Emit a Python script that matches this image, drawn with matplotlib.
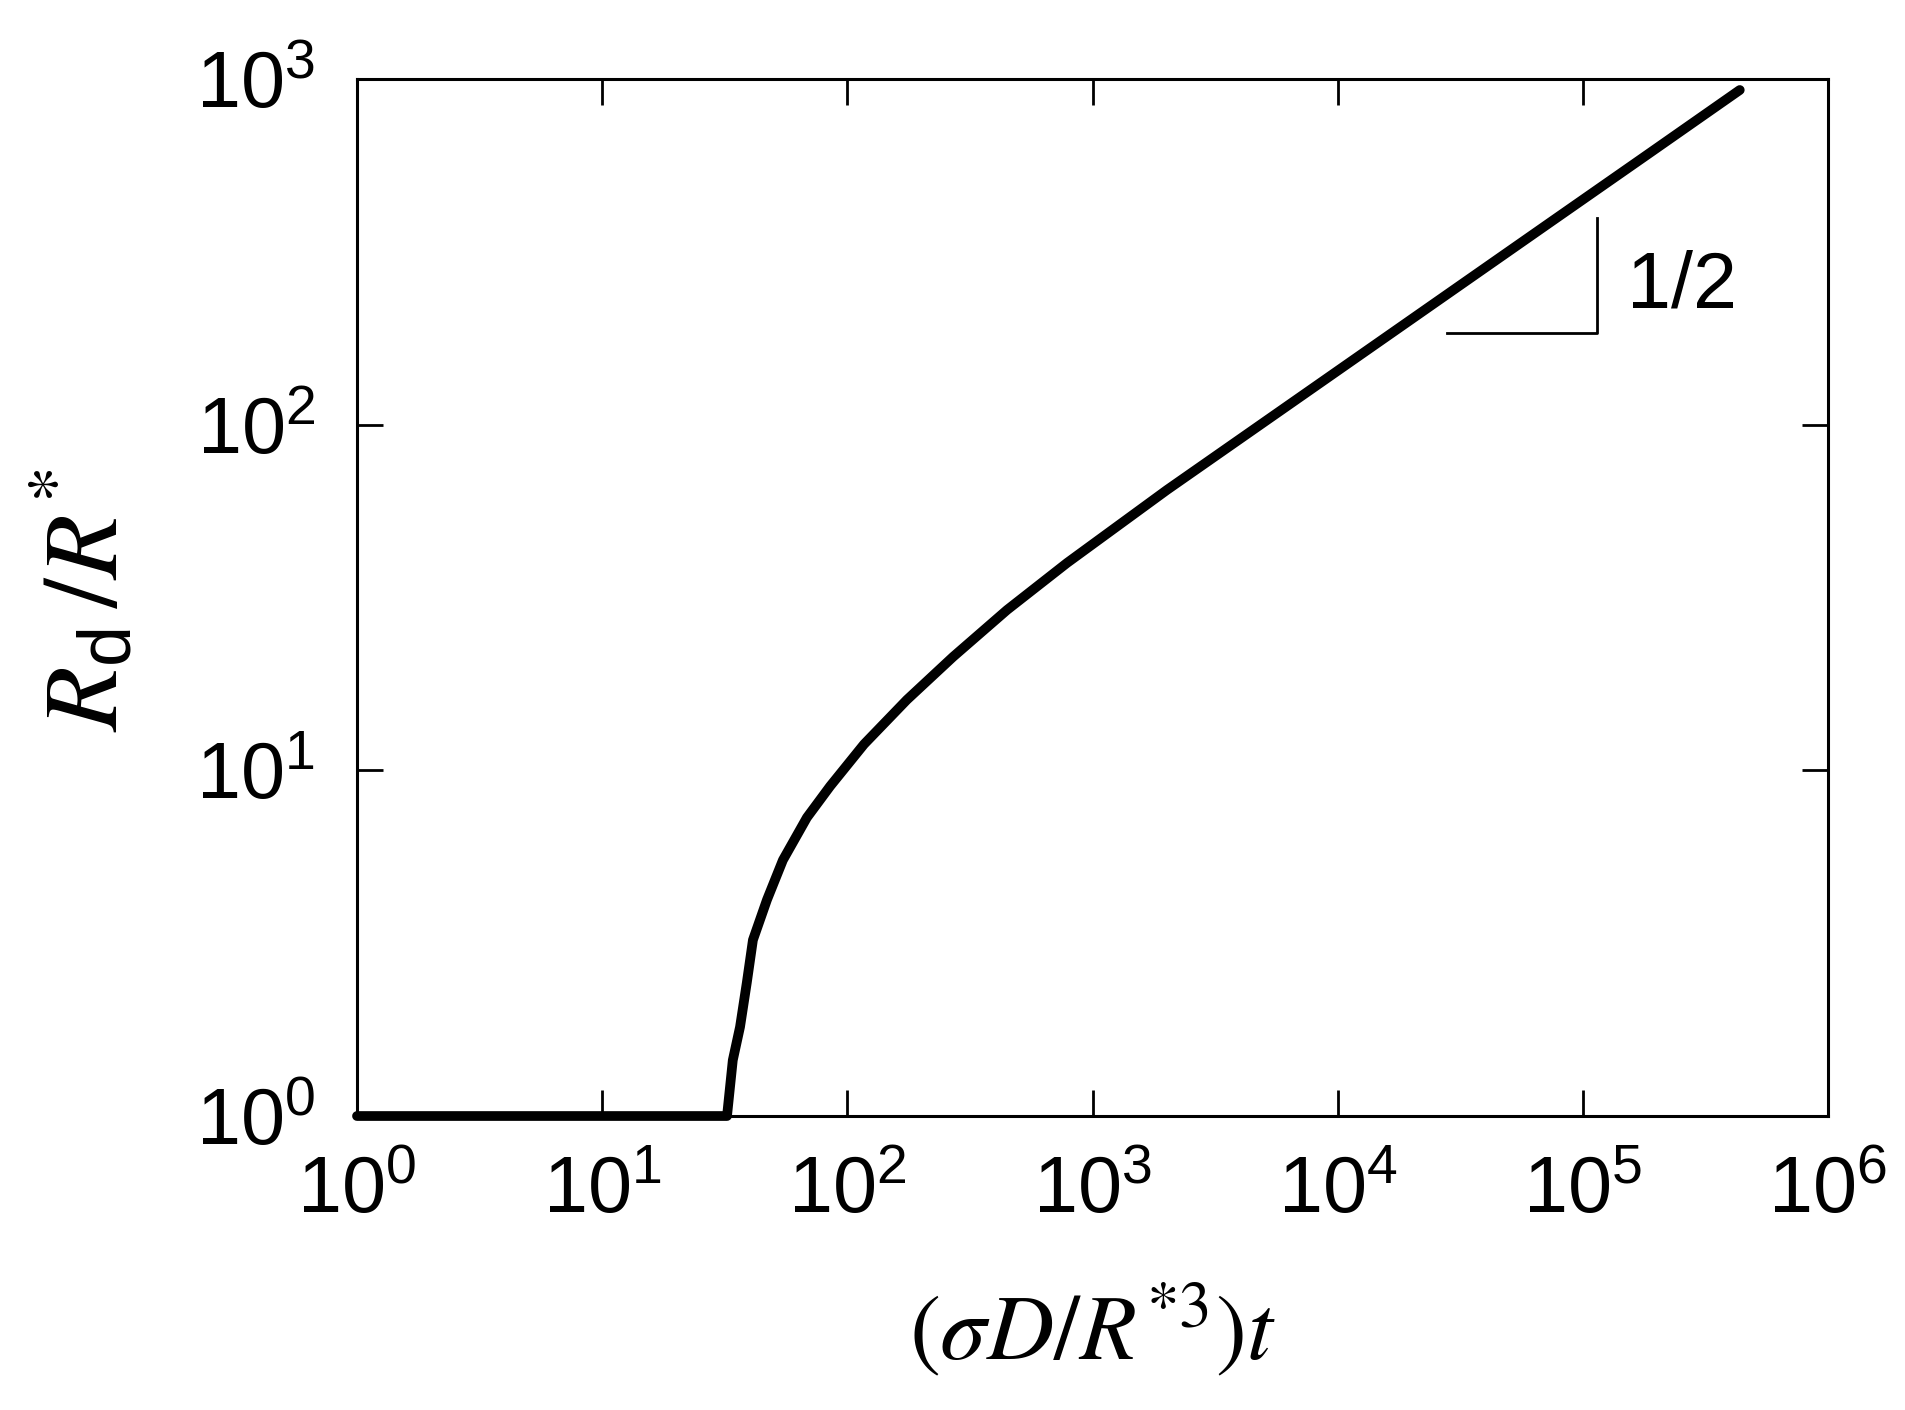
import numpy as np
import matplotlib
matplotlib.use('Agg')
import matplotlib.pyplot as plt
from matplotlib.ticker import LogLocator, NullLocator, FuncFormatter

# curve: dimensionless time vs droplet radius
t_vals = [1, 32.3, 34.1, 36.5, 38.9, 41.2, 47.0, 54.6, 68.4, 85.1, 117, 175,
          270, 448, 787, 2010, 5140, 13150, 73300, 187500, 436500]
rd_vals = [1, 1, 1.45, 1.81, 2.43, 3.23, 4.22, 5.50, 7.3, 9.0, 11.9, 16.0,
           21.3, 29.1, 39.8, 64.7, 103, 164, 384, 611, 929]

# slope triangle (1/2)
tri_x = [2.79e4, 1.14e5, 1.14e5]
tri_y = [184.5, 184.5, 396]
slope_label = '1/2'
slope_pos = (1.51e5, 250)

x_lim = (1, 1e6)
y_lim = (1, 1e3)

plt.rcParams['font.family'] = ['Liberation Sans', 'DejaVu Sans']
plt.rcParams['mathtext.fontset'] = 'stix'

fig = plt.figure(figsize=(19.06, 14.10), dpi=100)
ax = fig.add_axes([0.1873, 0.2085, 0.7718, 0.7355])

ax.plot(t_vals, rd_vals, color='black', lw=7, solid_capstyle='round',
        solid_joinstyle='round', clip_on=False, zorder=3)
ax.plot(tri_x, tri_y, color='black', lw=2)
ax.text(slope_pos[0], slope_pos[1], slope_label, fontsize=57,
        ha='left', va='center')

ax.set_xscale('log')
ax.set_yscale('log')
ax.set_xlim(*x_lim)
ax.set_ylim(*y_lim)

ax.xaxis.set_major_locator(LogLocator(base=10, numticks=10))
ax.yaxis.set_major_locator(LogLocator(base=10, numticks=10))
ax.xaxis.set_minor_locator(NullLocator())
ax.yaxis.set_minor_locator(NullLocator())
fmt = FuncFormatter(lambda v, pos: r'$\mathregular{10^{%d}}$' % round(np.log10(v)))
ax.xaxis.set_major_formatter(fmt)
ax.yaxis.set_major_formatter(fmt)

ax.tick_params(which='both', direction='in', top=True, right=True,
               length=19, width=2, labelsize=57)
ax.tick_params(axis='x', pad=28)
ax.tick_params(axis='y', pad=30)
for s in ax.spines.values():
    s.set_linewidth(2.2)

ax.set_xlabel(r'$(\sigma D/R^{*3})t$', fontsize=67, va='baseline')
ax.xaxis.set_label_coords(0.5, -0.2353)
ax.set_ylabel(r'$R_{\mathregular{d}}\,/R^{*}$', fontsize=76, va='baseline')
ax.yaxis.set_label_coords(-0.163, 0.497)

fig.savefig('out.png', dpi=100)
